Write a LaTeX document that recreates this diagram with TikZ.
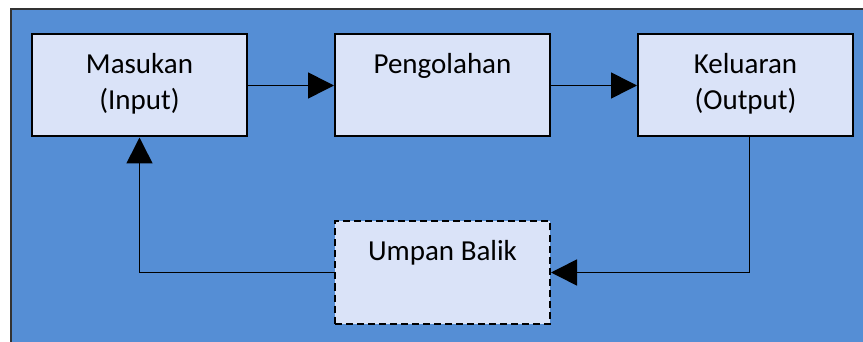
\documentclass[tikz,border=0pt]{standalone}
\usepackage{fontspec}
\setmainfont{Carlito}
\usetikzlibrary{positioning,arrows.meta}
\definecolor{bgblue}{RGB}{85,142,213}
\definecolor{boxfill}{RGB}{218,227,248}
\begin{document}
\begin{tikzpicture}[x=1pt,y=-1pt,align=center,node distance=83pt and 86pt]
   \tikzstyle{arrow} = [line width=1.6pt,-{Triangle[length=26pt,width=26pt]}]
   \tikzset{stage/.style = {rectangle, draw, fill=boxfill, line width=2pt, inner sep=0pt,
      minimum width=215pt, minimum height=102pt, text height=20pt, text depth=44pt,
      font=\fontsize{29}{36}\selectfont}, }
   \tikzset{twoline/.style = {text height=56pt, text depth=8pt} }
   \tikzset{feedback/.style = {stage, dash pattern=on 7pt off 4pt} }
   \useasboundingbox (0,0) rectangle (863,342);
   \clip (0,0) rectangle (863,342);
   \fill[bgblue, draw=black!80, line width=2pt] (11,9) rectangle (900,380);

   \node[stage, twoline] (masukan) at (139.5,85.5) {Masukan\\(Input)};
   \node[stage, right =of masukan] (pengolahan) {Pengolahan};
   \node[stage, twoline, right =of pengolahan] (keluaran) {Keluaran\\(Output)};
   \node[feedback, below =of pengolahan] (umpan) {Umpan Balik};

   % alur utama
   \draw[arrow] (masukan) -- (pengolahan);
   \draw[arrow] (pengolahan) -- (keluaran);

   % umpan balik
   \draw[arrow] ([xshift=4pt]keluaran.south) |- (umpan.east);
   \draw[arrow] (umpan.west) -| (masukan.south);
\end{tikzpicture}
\end{document}
